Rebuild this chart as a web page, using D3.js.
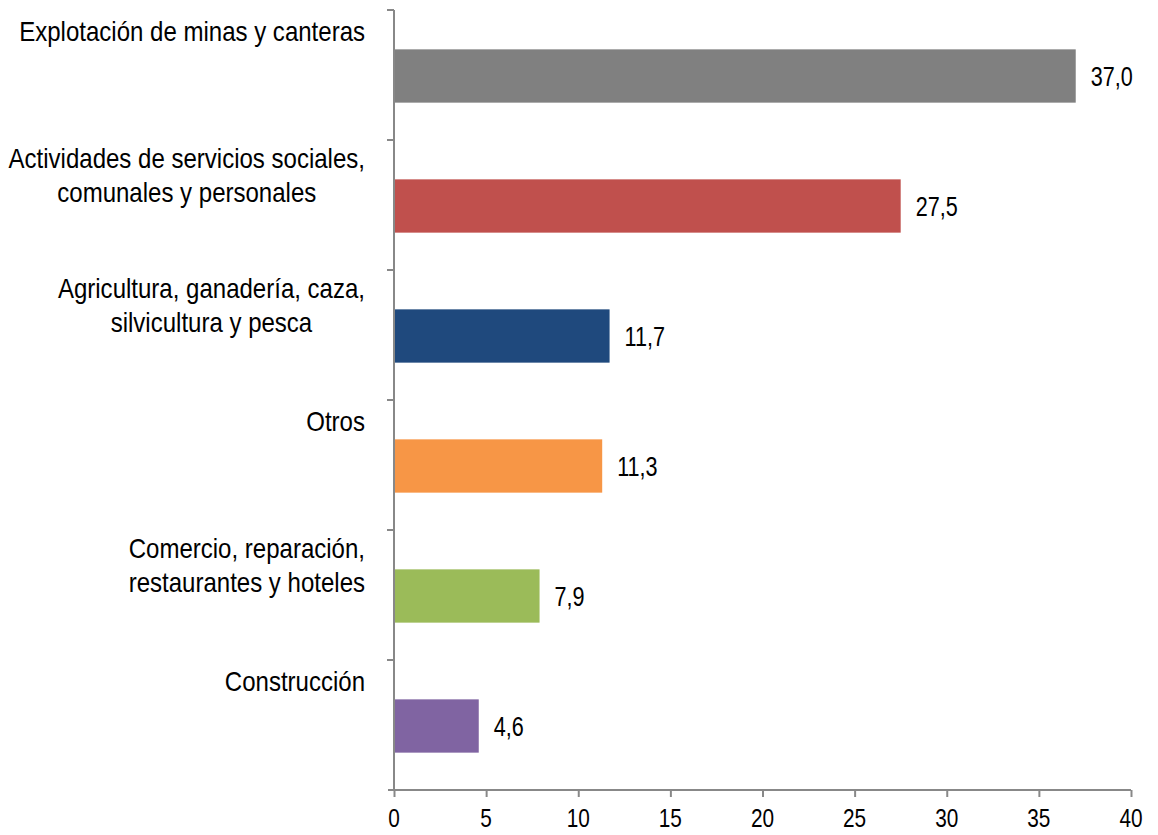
<!DOCTYPE html>
<html><head><meta charset="utf-8">
<script src="https://cdn.jsdelivr.net/npm/d3@7"></script>
<style>body{margin:0;background:#fff}</style>
</head><body>
<script>
const categories = [
  ["Explotación de minas y canteras"],
  ["Actividades de servicios sociales,", "comunales y personales"],
  ["Agricultura, ganadería, caza,", "silvicultura y pesca"],
  ["Otros"],
  ["Comercio, reparación,", "restaurantes y hoteles"],
  ["Construcción"]
];
const values = [37.0, 27.5, 11.7, 11.3, 7.9, 4.6];
const colors = ["#808080", "#C0504D", "#1F497D", "#F79646", "#9BBB59", "#8064A2"];
const xTicks = [0, 5, 10, 15, 20, 25, 30, 35, 40];

const W = 1158, H = 835;
const font = "'Liberation Sans', Arial, sans-serif";
const FS = 27, SX_LABEL = 0.89, SX_NUM = 0.8;
const svg = d3.select("body").append("svg").attr("width", W).attr("height", H);

const x = d3.scaleLinear().domain([0, 40]).range([394, 1131]);
const y = d3.scaleBand().domain(d3.range(categories.length)).range([10, 790]).paddingInner(0.59).paddingOuter(0.295);
const band = d3.scaleBand().domain(d3.range(categories.length)).range([10, 790]);

function narrowText(sel, px, py, sx, anchor, fs) {
  return sel.append("text")
    .attr("transform", `translate(${px},${py}) scale(${sx},1)`)
    .attr("text-anchor", anchor || "start")
    .attr("font-family", font).attr("font-size", fs || FS).attr("fill", "#000");
}

// bars
svg.selectAll("rect.bar").data(values).join("rect")
  .attr("x", x(0)).attr("y", (d, i) => y(i) + 1)
  .attr("width", d => x(d) - x(0)).attr("height", y.bandwidth())
  .attr("fill", (d, i) => colors[i]);

// value labels
values.forEach((d, i) => {
  narrowText(svg, x(d) + 15, y(i) + 1 + y.bandwidth() / 2 + 9.5, SX_NUM)
    .text(d.toFixed(1).replace(".", ","));
});

// x axis
const xAxis = d3.axisBottom(x).tickValues(xTicks).tickSize(7).tickFormat("");
const gx = svg.append("g").attr("transform", "translate(0,790)").call(xAxis);
gx.select(".domain").attr("stroke", "#888").attr("stroke-width", 2).attr("d", "M388,0H1131");
gx.selectAll(".tick line").attr("stroke", "#888").attr("stroke-width", 2);
xTicks.forEach(t => {
  narrowText(svg, x(t), 827, SX_NUM, "middle", 26).text(t);
});

// y axis line and category ticks
svg.append("line").attr("x1", 394).attr("x2", 394).attr("y1", 10).attr("y2", 790)
  .attr("stroke", "#888").attr("stroke-width", 2);
const tickYs = d3.range(categories.length).map(i => band(i));
svg.selectAll("line.ytick").data(tickYs).join("line")
  .attr("x1", 387).attr("x2", 394).attr("y1", d => d).attr("y2", d => d)
  .attr("stroke", "#888").attr("stroke-width", 2);

// category labels (block right-aligned at 365, lines centered within block)
categories.forEach((lines, i) => {
  const b = band(i);
  const n = lines.length;
  const t = narrowText(svg, 0, 0, SX_LABEL, "middle");
  lines.forEach((l, k) => {
    t.append("tspan").attr("x", 0).attr("y", n === 1 ? b + 31 : b + 28 + k * 34).text(l);
  });
  const w = t.node().getBBox().width * SX_LABEL;
  t.attr("transform", `translate(${365 - w / 2},0) scale(${SX_LABEL},1)`);
});
</script>
</body></html>
